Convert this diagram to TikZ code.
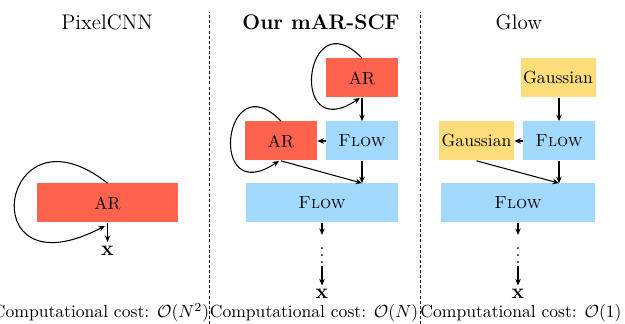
\documentclass[tikz,border=0pt]{standalone}
\usepackage{amsmath}
\usepackage{amssymb}
\usepackage{xcolor}
\usepackage{tikz}
\usetikzlibrary{arrows.meta,calc}

\definecolor{arred}{RGB}{255,99,77}
\definecolor{flowblue}{RGB}{162,217,255}
\definecolor{gaussyellow}{RGB}{255,221,122}

\begin{document}
\begin{tikzpicture}[>={Stealth[length=1.3mm,width=1.1mm]},
  box/.style={minimum height=0.78cm,inner sep=0pt},
  arbox/.style={box,fill=arred,minimum width=1.44cm},
  flowbox/.style={box,fill=flowblue,minimum width=1.44cm},
  gaussbox/.style={box,fill=gaussyellow,minimum width=1.5cm},
  conn/.style={->,semithick},
  title/.style={font=\large},
  xout/.style={font=\large,inner sep=2pt},
  sep/.style={dash pattern=on 1.7pt off 1.2pt}]
\useasboundingbox (0,0) rectangle (12.5,6.48);
% panel separators
\draw[sep] (4.18,0) -- (4.18,6.24);
\draw[sep] (8.40,0) -- (8.40,6.24);

% PixelCNN
\node[title] (tPix) at (2.14,6.04) {PixelCNN};
\node[arbox,minimum width=2.82cm] (arP) at (2.15,2.42) {AR};
\node[xout] (xP) at (2.15,1.47) {$\mathbf{x}$};
\draw[conn] (arP.south) -- (xP.north);
\draw[conn] (arP.north) .. controls +(-2.16,1.70) and +(-2.70,-1.42) .. ([xshift=-0.05cm,yshift=-0.06cm]arP.south);
\node (cP) at (2.02,0.22) {Computational cost: $\mathcal{O}(N^2)$};

% mAR-SCF
\node[title,font=\large\bfseries] (tM) at (6.42,6.04) {Our mAR-SCF};
\node[arbox] (arM1) at (7.24,4.92) {AR};
\node[flowbox] (flowM1) at (7.24,3.66) {\textsc{Flow}};
\node[arbox] (arM2) at (5.62,3.66) {AR};
\node[flowbox,minimum width=3.04cm] (flowM2) at (6.44,2.42) {\textsc{Flow}};
\node[inner xsep=0pt,inner ysep=1pt,anchor=north] (dotsM) at (6.44,1.78) {$\vdots$};
\node[xout] (xM) at (6.44,0.6) {$\mathbf{x}$};
\draw[conn] (arM1) -- (flowM1);
\draw[conn] (flowM1) -- (arM2);
\draw[conn] (flowM1) -- (flowM2.north -| flowM1.south);
\draw[conn] (arM2.south) -- (flowM2.north -| flowM1.south);
\draw[conn] (arM1.north) .. controls +(-1.15,1.2) and +(-1.45,-0.98) .. ([xshift=-0.04cm]arM1.south);
\draw[conn] (arM2.north) .. controls +(-1.15,1.2) and +(-1.45,-0.98) .. ([xshift=-0.04cm]arM2.south);
\draw[conn] (flowM2) -- (dotsM);
\draw[conn] (dotsM) -- (xM);
\node (cM) at (6.28,0.22) {Computational cost: $\mathcal{O}(N)$};

% Glow
\node[title] (tG) at (10.38,6.04) {Glow};
\node[gaussbox] (gG1) at (11.16,4.92) {Gaussian};
\node[flowbox] (flowG1) at (11.18,3.66) {\textsc{Flow}};
\node[gaussbox] (gG2) at (9.53,3.66) {Gaussian};
\node[flowbox,minimum width=3.08cm] (flowG2) at (10.36,2.42) {\textsc{Flow}};
\node[inner xsep=0pt,inner ysep=1pt,anchor=north] (dotsG) at (10.36,1.78) {$\vdots$};
\node[xout] (xG) at (10.36,0.6) {$\mathbf{x}$};
\draw[conn] (gG1.south -| flowG1.north) -- (flowG1);
\draw[conn] (flowG1) -- (gG2);
\draw[conn] (flowG1) -- (flowG2.north -| flowG1.south);
\draw[conn] (gG2.south) -- (flowG2.north -| flowG1.south);
\draw[conn] (flowG2) -- (dotsG);
\draw[conn] (dotsG) -- (xG);
\node (cG) at (10.42,0.22) {Computational cost: $\mathcal{O}(1)$};
\end{tikzpicture}
\end{document}
